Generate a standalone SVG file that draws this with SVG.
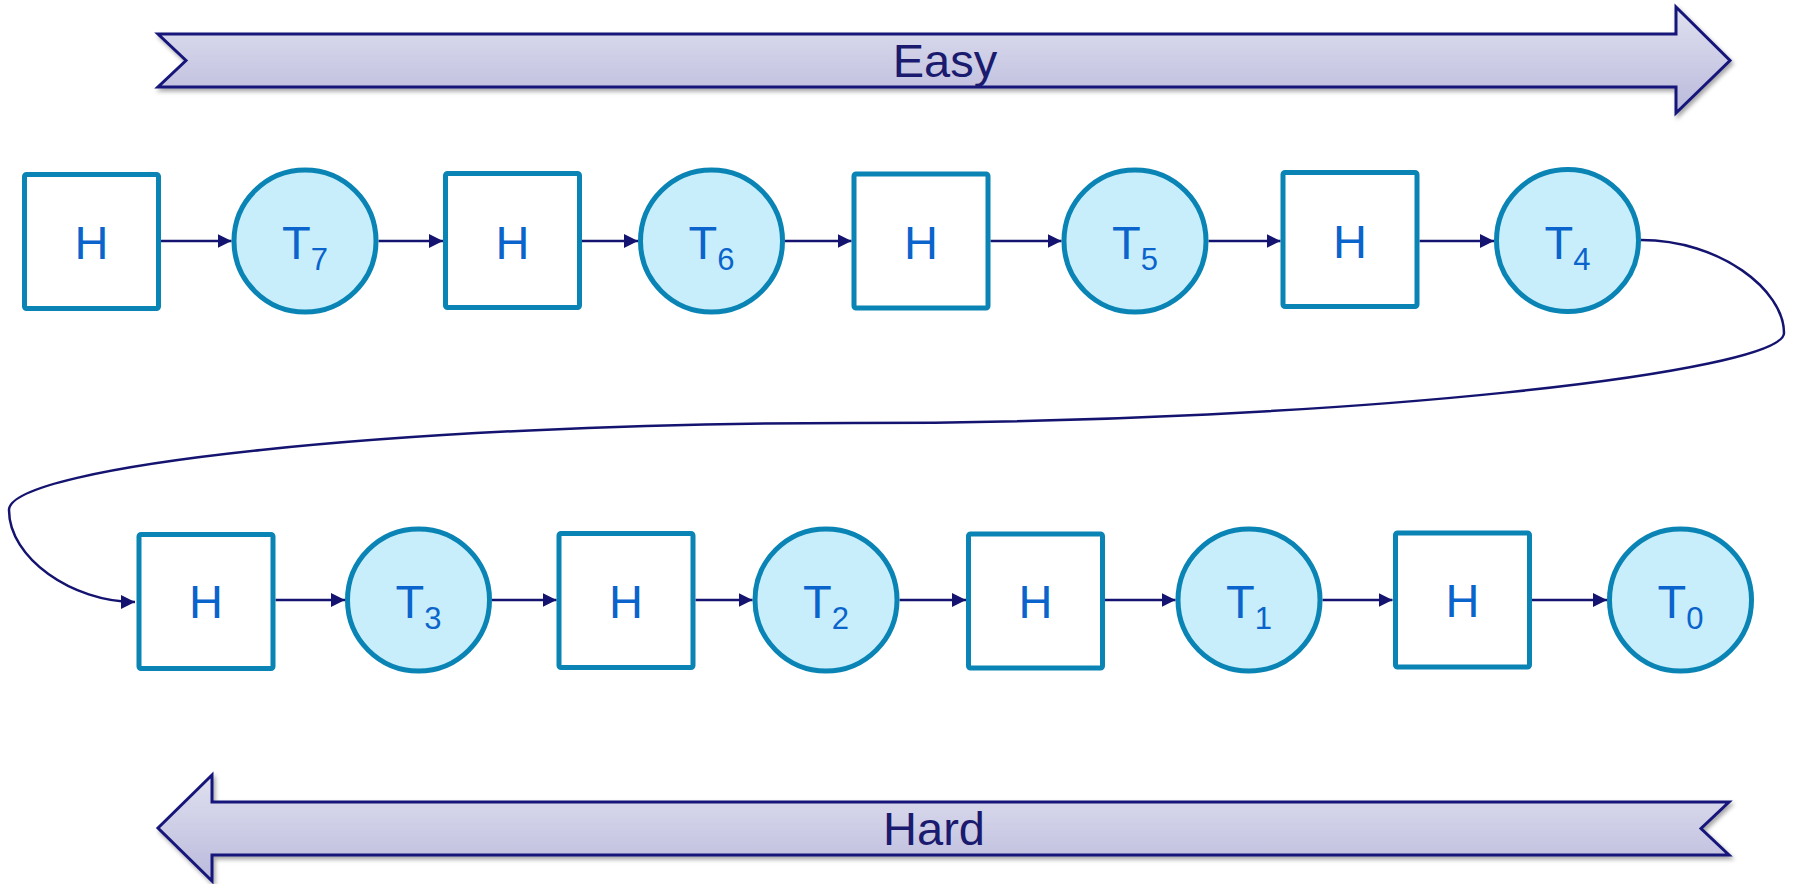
<svg xmlns="http://www.w3.org/2000/svg" width="1794" height="884" viewBox="0 0 1794 884">
<defs>
<linearGradient id="bandGrad" x1="0" y1="0" x2="0" y2="1">
<stop offset="0" stop-color="#e0e0f0"/>
<stop offset="1" stop-color="#babadc"/>
</linearGradient>
<filter id="shadow" x="-5%" y="-30%" width="110%" height="160%">
<feDropShadow dx="2" dy="3" stdDeviation="2" flood-color="#000" flood-opacity="0.35"/>
</filter>
<marker id="arr" markerUnits="userSpaceOnUse" markerWidth="15" markerHeight="15" refX="14" refY="7" orient="auto">
<path d="M0,0 L14,7 L0,14 z" fill="#141470"/>
</marker>
<style>
.band{fill:url(#bandGrad);stroke:#16167a;stroke-width:3;stroke-linejoin:miter;filter:url(#shadow)}
.bandtxt{font-family:"Liberation Sans",Arial,sans-serif;font-size:47px;fill:#1a1a6e;text-anchor:middle}
.sq{fill:#ffffff;stroke:#0a84b4;stroke-width:5}
.ci{fill:#c8eefc;stroke:#0a84b4;stroke-width:5}
.lbl{font-family:"Liberation Sans",Arial,sans-serif;font-size:47px;fill:#0a64cc;text-anchor:middle}
.sub{font-size:31px}
.conn{fill:none;stroke:#141470;stroke-width:2.5;marker-end:url(#arr)}
</style>
</defs>

<g id="easy">
<polygon class="band" points="158,34 1676,34 1676,7 1730,60.5 1676,113 1676,87 158,87 186,60.5"/>
<text class="bandtxt" x="945" y="77">Easy</text>
</g>
<g id="hard">
<polygon class="band" points="158,828 212,775 212,802 1729,802 1701,828.5 1729,855 212,855 212,881"/>
<text class="bandtxt" x="934" y="845">Hard</text>
</g>

<g id="connectors">
<line class="conn" x1="161" y1="241" x2="231.5" y2="241"/>
<line class="conn" x1="378.5" y1="241" x2="443" y2="241"/>
<line class="conn" x1="582" y1="241" x2="638" y2="241"/>
<line class="conn" x1="785" y1="241" x2="851.5" y2="241"/>
<line class="conn" x1="990.5" y1="241" x2="1061.5" y2="241"/>
<line class="conn" x1="1208.5" y1="241" x2="1280.5" y2="241"/>
<line class="conn" x1="1419.5" y1="241" x2="1494" y2="241"/>
<path class="conn" d="M1641,240 C1720,240 1784,290 1784,333 C1784,372 1350,423 852,423 C400,423 9,466 9,510 C9,558 72,602 135,602"/>
<line class="conn" x1="275.5" y1="600" x2="345" y2="600"/>
<line class="conn" x1="492" y1="600" x2="556.5" y2="600"/>
<line class="conn" x1="695.5" y1="600" x2="752.5" y2="600"/>
<line class="conn" x1="899.5" y1="600" x2="966" y2="600"/>
<line class="conn" x1="1105" y1="600" x2="1175.5" y2="600"/>
<line class="conn" x1="1322.5" y1="600" x2="1392.5" y2="600"/>
<line class="conn" x1="1531.5" y1="600" x2="1607" y2="600"/>
</g>

<g id="h1"><rect class="sq" x="24.5" y="174.5" width="134" height="134" rx="2"/><text class="lbl" x="91.5" y="259">H</text></g>
<g id="t7"><circle class="ci" cx="305" cy="241" r="71"/><text class="lbl" x="305" y="259">T<tspan class="sub" dy="11">7</tspan></text></g>
<g id="h2"><rect class="sq" x="445.5" y="173.5" width="134" height="134" rx="2"/><text class="lbl" x="512.5" y="259">H</text></g>
<g id="t6"><circle class="ci" cx="711.5" cy="241" r="71"/><text class="lbl" x="711.5" y="259">T<tspan class="sub" dy="11">6</tspan></text></g>
<g id="h3"><rect class="sq" x="854" y="174" width="134" height="134" rx="2"/><text class="lbl" x="921" y="259">H</text></g>
<g id="t5"><circle class="ci" cx="1135" cy="241" r="71"/><text class="lbl" x="1135" y="259">T<tspan class="sub" dy="11">5</tspan></text></g>
<g id="h4"><rect class="sq" x="1283" y="172.5" width="134" height="134" rx="2"/><text class="lbl" x="1350" y="258">H</text></g>
<g id="t4"><circle class="ci" cx="1567.5" cy="240.5" r="71"/><text class="lbl" x="1567.5" y="258.5">T<tspan class="sub" dy="11">4</tspan></text></g>

<g id="h5"><rect class="sq" x="139" y="534.5" width="134" height="134" rx="2"/><text class="lbl" x="206" y="618">H</text></g>
<g id="t3"><circle class="ci" cx="418.5" cy="600" r="71"/><text class="lbl" x="418.5" y="618">T<tspan class="sub" dy="11">3</tspan></text></g>
<g id="h6"><rect class="sq" x="559" y="533.5" width="134" height="134" rx="2"/><text class="lbl" x="626" y="618">H</text></g>
<g id="t2"><circle class="ci" cx="826" cy="600" r="71"/><text class="lbl" x="826" y="618">T<tspan class="sub" dy="11">2</tspan></text></g>
<g id="h7"><rect class="sq" x="968.5" y="534" width="134" height="134" rx="2"/><text class="lbl" x="1035.5" y="618">H</text></g>
<g id="t1"><circle class="ci" cx="1249" cy="600" r="71"/><text class="lbl" x="1249" y="618">T<tspan class="sub" dy="11">1</tspan></text></g>
<g id="h8"><rect class="sq" x="1395.5" y="533" width="134" height="134" rx="2"/><text class="lbl" x="1462.5" y="617">H</text></g>
<g id="t0"><circle class="ci" cx="1680.5" cy="600" r="71"/><text class="lbl" x="1680.5" y="618">T<tspan class="sub" dy="11">0</tspan></text></g>
</svg>
